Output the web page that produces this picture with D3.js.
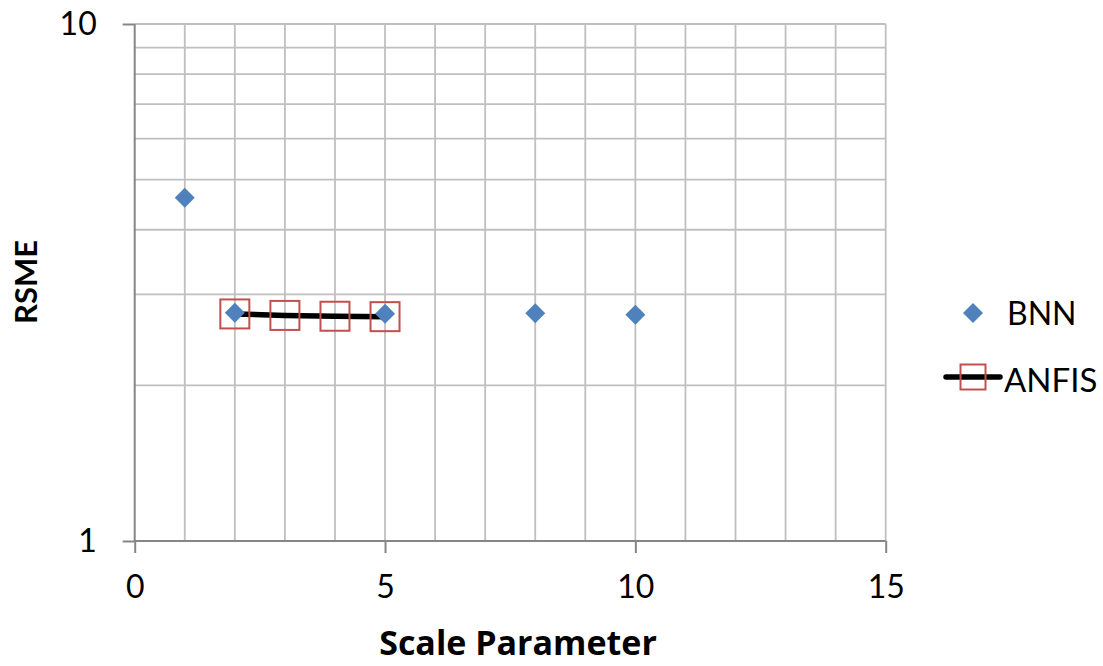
<!DOCTYPE html>
<html><head><meta charset="utf-8">
<script src="https://cdn.jsdelivr.net/npm/d3@7"></script>
<style>body{margin:0;background:#fff}svg{display:block}</style>
</head><body><svg id="c" width="1103" height="666"></svg>
<script>
const bnnX = [1, 2, 5, 8, 10];
const bnnY = [4.61, 2.765, 2.75, 2.757, 2.74];
const anfisX = [2, 3, 4, 5];
const anfisY = [2.749, 2.731, 2.721, 2.716];
const xTicks = [0, 5, 10, 15];
const yTicks = [1, 10];
const seriesNames = ["BNN", "ANFIS"];

const svg = d3.select("#c");
const L = 134.7, R = 885.7, T = 24, B = 541;
const x = d3.scaleLinear().domain([0, 15]).range([L, R]);
const y = d3.scaleLog().domain([1, 10]).range([B, T]);

// gridlines
const g = svg.append("g");
g.selectAll(".vx").data(d3.range(1, 16)).join("line")
  .attr("x1", d => x(d)).attr("x2", d => x(d)).attr("y1", T).attr("y2", B)
  .attr("stroke", "#bfbfbf").attr("stroke-width", 1.8);
g.selectAll(".hy").data(d3.range(2, 11)).join("line")
  .attr("x1", L).attr("x2", R).attr("y1", d => y(d)).attr("y2", d => y(d))
  .attr("stroke", "#bfbfbf").attr("stroke-width", 1.8);

// axes
const xAxis = d3.axisBottom(x).tickValues(xTicks).tickSize(12).tickPadding(22);
const xa = svg.append("g").attr("transform", `translate(0,${B})`).call(xAxis);
xa.select(".domain").attr("stroke", "#868686").attr("stroke-width", 2).attr("d", `M${L},0H${R}`);
xa.selectAll(".tick line").attr("stroke", "#868686").attr("stroke-width", 2);
xa.selectAll(".tick text").attr("font-size", 32).attr("font-family", "Lato").attr("fill", "#000").attr("dy", "0.71em");

const yAxis = d3.axisLeft(y).tickValues(yTicks).tickFormat(d3.format("d")).tickSize(12).tickPadding(26);
const ya = svg.append("g").attr("transform", `translate(${L},0)`).call(yAxis);
ya.select(".domain").attr("stroke", "#868686").attr("stroke-width", 2).attr("d", `M0,${T}V${B}`);
ya.selectAll(".tick line").attr("stroke", "#868686").attr("stroke-width", 2);
ya.selectAll(".tick text").attr("font-size", 32).attr("font-family", "Lato").attr("fill", "#000");

// ANFIS line
const anfis = anfisX.map((d, i) => [d, anfisY[i]]);
svg.append("path").datum(anfis)
  .attr("d", d3.line().x(d => x(d[0])).y(d => y(d[1])))
  .attr("fill", "none").attr("stroke", "#000").attr("stroke-width", 5.5);
const sq = 29;
svg.selectAll(".sq").data(anfis).join("rect")
  .attr("x", d => x(d[0]) - sq / 2).attr("y", d => y(d[1]) - sq / 2)
  .attr("width", sq).attr("height", sq)
  .attr("fill", "none").attr("stroke", "#c0504d").attr("stroke-width", 2);

// BNN diamonds
const dia = s => `M0,${-s}L${s},0L0,${s}L${-s},0Z`;
svg.selectAll(".dm").data(bnnX.map((d, i) => [d, bnnY[i]])).join("path")
  .attr("transform", d => `translate(${x(d[0])},${y(d[1])})`)
  .attr("d", dia(10)).attr("fill", "#4f81bd");

// legend
svg.append("path").attr("transform", "translate(973,313)").attr("d", dia(10)).attr("fill", "#4f81bd");
svg.append("text").attr("x", 1007).attr("y", 325).attr("font-family", "Lato").attr("font-size", 32).text(seriesNames[0]);
svg.append("line").attr("x1", 946).attr("x2", 1000).attr("y1", 377).attr("y2", 377)
  .attr("stroke", "#000").attr("stroke-width", 5.5).attr("stroke-linecap", "round");
svg.append("rect").attr("x", 973 - 12.5).attr("y", 377 - 12.5).attr("width", 25).attr("height", 25)
  .attr("fill", "none").attr("stroke", "#c0504d").attr("stroke-width", 2);
svg.append("text").attr("x", 1004).attr("y", 392).attr("font-family", "Lato").attr("font-size", 33).text(seriesNames[1]);

// axis titles
svg.append("text").attr("x", 518).attr("y", 655).attr("text-anchor", "middle")
  .attr("font-family", "Open Sans").attr("font-size", 34).attr("font-weight", "bold").text("Scale Parameter");
svg.append("text").attr("transform", "translate(37,282) rotate(-90)").attr("text-anchor", "middle")
  .attr("font-family", "Lato").attr("font-size", 31).attr("font-weight", "bold").text("RSME");
</script></body></html>
